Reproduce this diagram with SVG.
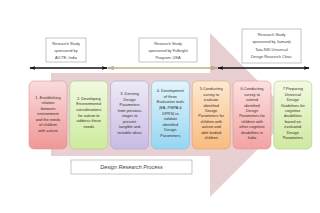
<svg xmlns="http://www.w3.org/2000/svg" width="320" height="213" viewBox="0 0 320 213">
<defs>
<style>
.note{fill:#fff;stroke:#8a8a8a;stroke-width:0.5}
.nt{font-family:"Liberation Sans",Arial,sans-serif;font-size:3.9px;fill:#444;text-anchor:middle}
.bt{font-family:"Liberation Sans",Arial,sans-serif;font-size:3.9px;fill:#3a2f28;text-anchor:middle}
.box{stroke-width:0.6}
.cap{font-family:"Liberation Sans",Arial,sans-serif;font-size:5.4px;font-style:italic;fill:#444;text-anchor:middle}
</style>
<linearGradient id="g1" x1="0" y1="0" x2="0" y2="1"><stop offset="0" stop-color="#f9dcdc"/><stop offset="1" stop-color="#f09696"/></linearGradient>
<linearGradient id="g2" x1="0" y1="0" x2="0" y2="1"><stop offset="0" stop-color="#f2f9e2"/><stop offset="1" stop-color="#cdeb9c"/></linearGradient>
<linearGradient id="g3" x1="0" y1="0" x2="0" y2="1"><stop offset="0" stop-color="#eeeaf7"/><stop offset="1" stop-color="#c8bbe4"/></linearGradient>
<linearGradient id="g4" x1="0" y1="0" x2="0" y2="1"><stop offset="0" stop-color="#e3f5fc"/><stop offset="1" stop-color="#95d6f1"/></linearGradient>
<linearGradient id="g5" x1="0" y1="0" x2="0" y2="1"><stop offset="0" stop-color="#fde9d2"/><stop offset="1" stop-color="#f9bb7e"/></linearGradient>
<linearGradient id="g6" x1="0" y1="0" x2="0" y2="1"><stop offset="0" stop-color="#fde0e0"/><stop offset="1" stop-color="#f3a2a2"/></linearGradient>
<linearGradient id="g7" x1="0" y1="0" x2="0" y2="1"><stop offset="0" stop-color="#f3fae3"/><stop offset="1" stop-color="#cfe99f"/></linearGradient>
<marker id="ab" viewBox="0 0 10 6" refX="9" refY="3" markerWidth="6" markerHeight="3.6" orient="auto-start-reverse" markerUnits="userSpaceOnUse"><path d="M0,0 L10,3 L0,6 L2,3 Z" fill="#111"/></marker>
<marker id="at" viewBox="0 0 10 6" refX="9" refY="3" markerWidth="7" markerHeight="4" orient="auto-start-reverse" markerUnits="userSpaceOnUse"><path d="M0,0 L10,3 L0,6 L2,3 Z" fill="#c9bc8c" stroke="#777" stroke-width="0.4"/></marker>
</defs>
<rect width="320" height="213" fill="#fff"/>
<g id="big-arrow">
<path d="M51,73 H210 V33 L292,115 L210,197 V156 H51 Z" fill="#e8cfd2"/>
</g>
<g id="connectors">
<line x1="30" y1="68" x2="107" y2="68" stroke="#111" stroke-width="1.3" marker-start="url(#ab)" marker-end="url(#ab)"/>
<line x1="108" y1="68" x2="217" y2="68" stroke="#b9ac80" stroke-width="1.4" marker-start="url(#at)" marker-end="url(#at)"/>
<line x1="218" y1="68" x2="309" y2="68" stroke="#111" stroke-width="1.3" marker-start="url(#ab)" marker-end="url(#ab)"/>
</g>
<g id="note-aicte">
<rect class="note" x="46" y="38" width="40" height="24"/>
<text class="nt" x="66" y="44.7">Research Study</text>
<text class="nt" x="66" y="52">sponsored by</text>
<text class="nt" x="66" y="58.7">AICTE, India</text>
</g>
<g id="note-fulbright">
<rect class="note" x="139" y="38" width="58" height="24"/>
<text class="nt" x="168" y="44.7">Research Study</text>
<text class="nt" x="168" y="52">sponsored by Fulbright</text>
<text class="nt" x="168" y="58.7">Program, USA</text>
</g>
<g id="note-tata">
<rect class="note" x="242" y="29" width="59" height="34"/>
<text class="nt" x="271.5" y="35.7">Research Study</text>
<text class="nt" x="271.5" y="43.3">sponsored by Jamsetji</text>
<text class="nt" x="271.5" y="50.7">Tata-NID Universal</text>
<text class="nt" x="271.5" y="58">Design Research Chair,</text>
</g>
<g id="step1">
<rect class="box" x="29" y="81" width="38" height="68" rx="5" fill="url(#g1)" stroke="#d89a9a"/>
<text class="bt" x="48" y="98.6">1. Establishing</text>
<text class="bt" x="48" y="104.1">relation</text>
<text class="bt" x="48" y="109.6">between</text>
<text class="bt" x="48" y="115.1">environment</text>
<text class="bt" x="48" y="120.6">and the needs</text>
<text class="bt" x="48" y="126.1">of children</text>
<text class="bt" x="48" y="131.6">with autism</text>
</g>
<g id="step2">
<rect class="box" x="69.8" y="81" width="38" height="68" rx="5" fill="url(#g2)" stroke="#a9c98a"/>
<text class="bt" x="88.8" y="99.6">2. Developing</text>
<text class="bt" x="88.8" y="105.3">Environmental</text>
<text class="bt" x="88.8" y="111">considerations</text>
<text class="bt" x="88.8" y="116.7">for autism to</text>
<text class="bt" x="88.8" y="122.4">address these</text>
<text class="bt" x="88.8" y="128.1">needs</text>
</g>
<g id="step3">
<rect class="box" x="110.6" y="81" width="38" height="68" rx="5" fill="url(#g3)" stroke="#aaa0cc"/>
<text class="bt" x="129.6" y="95.4">3. Deriving</text>
<text class="bt" x="129.6" y="100.9">Design</text>
<text class="bt" x="129.6" y="106.4">Parameters</text>
<text class="bt" x="129.6" y="111.9">from previous</text>
<text class="bt" x="129.6" y="117.4">stages to</text>
<text class="bt" x="129.6" y="122.9">present</text>
<text class="bt" x="129.6" y="128.4">tangible and</text>
<text class="bt" x="129.6" y="133.9">testable ideas</text>
</g>
<g id="step4">
<rect class="box" x="151.4" y="81" width="38" height="68" rx="5" fill="url(#g4)" stroke="#88bcd4"/>
<text class="bt" x="170.4" y="92.1">4. Development</text>
<text class="bt" x="170.4" y="97.7">of three</text>
<text class="bt" x="170.4" y="103.3">Evaluation tools</text>
<text class="bt" x="170.4" y="108.9">(EA, PMPA &amp;</text>
<text class="bt" x="170.4" y="114.5">DPRS) to</text>
<text class="bt" x="170.4" y="120.1">validate</text>
<text class="bt" x="170.4" y="125.7">identified</text>
<text class="bt" x="170.4" y="131.3">Design</text>
<text class="bt" x="170.4" y="136.9">Parameters</text>
</g>
<g id="step5">
<rect class="box" x="192.2" y="81" width="38" height="68" rx="5" fill="url(#g5)" stroke="#d9a472"/>
<text class="bt" x="211.2" y="90.3">5.Conducting</text>
<text class="bt" x="211.2" y="95.7">survey to</text>
<text class="bt" x="211.2" y="101.1">evaluate</text>
<text class="bt" x="211.2" y="106.5">identified</text>
<text class="bt" x="211.2" y="111.9">Design</text>
<text class="bt" x="211.2" y="117.3">Parameters for</text>
<text class="bt" x="211.2" y="122.7">children with</text>
<text class="bt" x="211.2" y="128.1">autism and</text>
<text class="bt" x="211.2" y="133.5">able bodied</text>
<text class="bt" x="211.2" y="138.9">children</text>
</g>
<g id="step6">
<rect class="box" x="233" y="81" width="38" height="68" rx="5" fill="url(#g6)" stroke="#d89a9a"/>
<text class="bt" x="252" y="90.3">6.Conducting</text>
<text class="bt" x="252" y="95.7">survey to</text>
<text class="bt" x="252" y="101.1">extend</text>
<text class="bt" x="252" y="106.5">identified</text>
<text class="bt" x="252" y="111.9">Design</text>
<text class="bt" x="252" y="117.3">Parameters for</text>
<text class="bt" x="252" y="122.7">children with</text>
<text class="bt" x="252" y="128.1">other cognitive</text>
<text class="bt" x="252" y="133.5">disabilities in</text>
<text class="bt" x="252" y="138.9">India</text>
</g>
<g id="step7">
<rect class="box" x="273.8" y="81" width="38" height="68" rx="5" fill="url(#g7)" stroke="#a9c98a"/>
<text class="bt" x="292.8" y="90.3">7.Preparing</text>
<text class="bt" x="292.8" y="95.7">Universal</text>
<text class="bt" x="292.8" y="101.1">Design</text>
<text class="bt" x="292.8" y="106.5">Guidelines for</text>
<text class="bt" x="292.8" y="111.9">cognitive</text>
<text class="bt" x="292.8" y="117.3">disabilities</text>
<text class="bt" x="292.8" y="122.7">based on</text>
<text class="bt" x="292.8" y="128.1">evaluated</text>
<text class="bt" x="292.8" y="133.5">Design</text>
<text class="bt" x="292.8" y="138.9">Parameters</text>
</g>
<g id="caption">
<rect class="note" x="71" y="160" width="121" height="14"/>
<text class="cap" x="131.5" y="169">Design Research Process</text>
</g>
</svg>
